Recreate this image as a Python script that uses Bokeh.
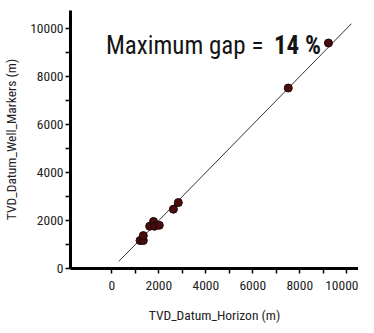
from bokeh.plotting import figure
from bokeh.models import FixedTicker, Range1d, Label
from bokeh.embed import file_html
from bokeh.resources import INLINE

# Data
horizon_tvd = [1200, 1340, 1340, 1610, 1775, 1815, 2020, 2620, 2830, 7510, 9220]
markers_tvd = [1165, 1165, 1370, 1760, 1960, 1760, 1800, 2470, 2745, 7520, 9395]
ref_line = [300, 10200]
major_ticks = [0, 2000, 4000, 6000, 8000, 10000]
minor_ticks = [1000, 3000, 5000, 7000, 9000]
title_plain = "Maximum gap = "
title_bold = "14 %"

FONT = "Roboto Condensed"

p = figure(width=358, height=325, output_backend="svg", toolbar_location=None,
           x_range=Range1d(-1760, 10500), y_range=Range1d(0, 10750),
           min_border_left=59, min_border_right=0, min_border_top=10, min_border_bottom=55)
p.outline_line_color = None
p.xgrid.visible = False
p.ygrid.visible = False

p.line(ref_line, ref_line, line_color="#333333", line_width=1)
p.scatter(horizon_tvd, markers_tvd, size=8, fill_color="#4a0c0c", line_color="#1a0505", line_width=1)

for ax in (p.xaxis[0], p.yaxis[0]):
    ax.ticker = FixedTicker(ticks=major_ticks, minor_ticks=minor_ticks)
    ax.axis_line_width = 3
    ax.axis_line_color = "black"
    ax.major_tick_line_color = "black"
    ax.minor_tick_line_color = "black"
    ax.major_tick_line_width = 1.5
    ax.minor_tick_line_width = 1.5
    ax.major_tick_in = 0
    ax.major_tick_out = 5
    ax.minor_tick_in = 0
    ax.minor_tick_out = 5
    ax.major_label_text_font = FONT
    ax.major_label_text_font_size = "13.5px"
    ax.major_label_text_color = "#222222"
    ax.axis_label_text_font = FONT
    ax.axis_label_text_font_size = "13.5px"
    ax.axis_label_text_font_style = "normal"
    ax.axis_label_text_color = "#222222"

p.xaxis.axis_label = "TVD_Datum_Horizon (m)"
p.yaxis.axis_label = "TVD_Datum_Well_Markers (m)"
p.xaxis.major_label_standoff = 7
p.xaxis.axis_label_standoff = 14
p.yaxis.major_label_standoff = 2
p.yaxis.axis_label_standoff = 8

p.add_layout(Label(x=-250, y=9300, text=title_plain, text_font=FONT, text_font_size="25px",
                   text_color="#141414", text_baseline="alphabetic", text_align="left"))
p.add_layout(Label(x=8900, y=9300, text=title_bold, text_font=FONT, text_font_size="25px",
                   text_font_style="bold", text_color="#141414", text_baseline="alphabetic",
                   text_align="right"))

open("out.html", "w").write(file_html(p, INLINE))
